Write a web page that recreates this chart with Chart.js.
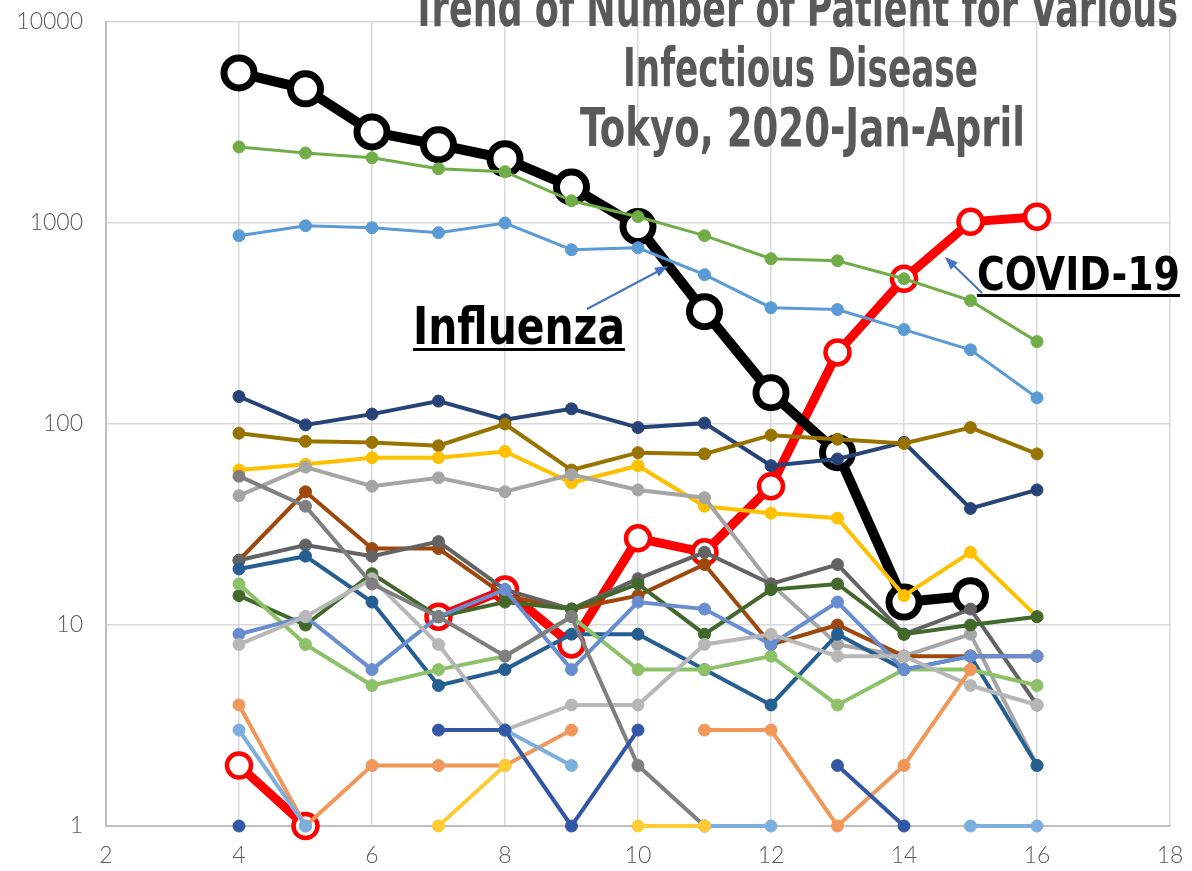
<!DOCTYPE html>
<html>
<head>
<meta charset="utf-8">
<script src="https://cdn.jsdelivr.net/npm/chart.js@4.4.1/dist/chart.umd.min.js"></script>
<style>
  body { margin: 0; background: #fff; }
  #wrap { position: relative; width: 1192px; height: 871px; overflow: hidden; }
  .lbl { position: absolute; white-space: nowrap; line-height: 1; transform-origin: 0 0;
         font-family: 'Liberation Sans Narrow', 'DejaVu Sans Condensed', 'Noto Sans', sans-serif; font-weight: bold; }
  .title { color: #595959; font-size: 54px; }
  .note { color: #000; }
  .uline { position: absolute; height: 3px; background: #000; }
</style>
</head>
<body>
<div id="wrap">
  <canvas id="chart" width="1192" height="871"></canvas>
  <div class="lbl title" data-x="412" data-w="766" data-base="26">Trend of Number of Patient for Various</div>
  <div class="lbl title" data-x="623" data-w="355" data-base="86">Infectious Disease</div>
  <div class="lbl title" data-x="580" data-w="445" data-base="146">Tokyo, 2020-Jan-April</div>
  <div class="lbl note" style="font-size:52px" data-x="413" data-w="212" data-base="344">Influenza</div>
  <div class="uline" style="left:413px;top:348px;width:212px"></div>
  <div class="lbl note" style="font-size:47px" data-x="977" data-w="203" data-base="290">COVID-19</div>
  <div class="uline" style="left:977px;top:294px;width:203px"></div>
</div>
<script>
// week numbers on the x axis
const weeks = [4, 5, 6, 7, 8, 9, 10, 11, 12, 13, 14, 15, 16];
const xTicks = [2, 4, 6, 8, 10, 12, 14, 16, 18];
const yTicks = [1, 10, 100, 1000, 10000];

// patients per week
const influenza = [5580, 4650, 2840, 2450, 2090, 1510, 960, 362, 143, 72, 13, 14, null];
const covid19   = [2, 1, null, 11, 15, 8, 27, 23, 49, 227, 528, 1014, 1075];

const greenSeries      = [2390, 2230, 2110, 1860, 1800, 1290, 1075, 865, 664, 649, 528, 411, 257];
const blueSeries       = [865, 969, 947, 895, 1000, 736, 753, 553, 379, 371, 295, 234, 135];
const navySeries       = [137, 99, 112, 130, 105, 119, 96, 101, 62, 67, 81, 38, 47];
const darkGoldSeries   = [90, 82, 81, 78, 100, 59, 72, 71, 88, 84, 80, 96, 71];
const goldSeries       = [59, 63, 68, 68, 73, 51, 62, 39, 36, 34, 14, 23, 11];
const graySeries       = [44, 61, 49, 54, 46, 56, 47, 43, 16, 8, 7, 9, 2];
const brownSeries      = [21, 46, 24, 24, 14, 12, 14, 20, 8, 10, 7, 7, 7];
const darkGraySeries   = [21, 25, 22, 26, 15, 12, 17, 23, 16, 20, 9, 12, 4];
const steelSeries      = [19, 22, 13, 5, 6, 9, 9, 6, 4, 9, 6, 7, 2];
const darkGreenSeries  = [14, 10, 18, 11, 13, 12, 16, 9, 15, 16, 9, 10, 11];
const lightGreenSeries = [16, 8, 5, 6, 7, 11, 6, 6, 7, 4, 6, 6, 5];
const periwinkleSeries = [9, 11, 6, 11, 15, 6, 13, 12, 8, 13, 6, 7, 7];
const lightGraySeries  = [8, 11, 17, 8, 3, 4, 4, 8, 9, 7, 7, 5, 4];
const midGraySeries    = [55, 39, 16, 11, 7, 11, 2, 1, null, null, null, null, null];
const orangeSeries     = [4, 1, 2, 2, 2, 3, null, 3, 3, 1, 2, 6, null];
const skyBlueSeries    = [3, 1, null, null, 3, 2, null, 1, 1, null, null, 1, 1];
const lightGoldSeries  = [null, null, null, 1, 2, null, 1, 1, null, null, null, null, null];
const royalSeries      = [1, null, null, 3, 3, 1, 3, null, null, 2, 1, null, null];

function pts(vals) {
  return weeks.map((w, i) => ({ x: w, y: vals[i] }));
}

function series(vals, color, width) {
  return {
    data: pts(vals),
    borderColor: color,
    backgroundColor: color,
    pointBackgroundColor: color,
    pointBorderColor: color,
    borderWidth: width || 4,
    pointRadius: 6,
    pointBorderWidth: 1,
    tension: 0,
    clip: false,
    order: 1
  };
}

const datasets = [
  series(royalSeries, '#3257A4'),
  series(lightGoldSeries, '#FFCD33'),
  series(skyBlueSeries, '#7CAFDD'),
  series(orangeSeries, '#F1975A'),
  series(midGraySeries, '#7F7F7F'),
  series(lightGraySeries, '#B7B7B7'),
  series(periwinkleSeries, '#698ED0'),
  series(lightGreenSeries, '#8CC168'),
  series(darkGreenSeries, '#43682B'),
  series(steelSeries, '#255E91'),
  series(darkGraySeries, '#636363'),
  series(brownSeries, '#9E480E'),
  series(graySeries, '#A5A5A5'),
  series(goldSeries, '#FFC000'),
  series(darkGoldSeries, '#997300'),
  series(navySeries, '#264478'),
  series(blueSeries, '#5B9BD5', 3),
  series(greenSeries, '#70AD47', 3),
  {
    label: 'Influenza',
    data: pts(influenza),
    borderColor: '#000',
    borderWidth: 10,
    pointRadius: 15,
    pointBorderWidth: 7,
    pointBorderColor: '#000',
    pointBackgroundColor: '#fff',
    tension: 0,
    clip: false,
    order: 2
  },
  {
    label: 'COVID-19',
    data: pts(covid19),
    borderColor: '#FF0000',
    borderWidth: 9,
    pointRadius: 12,
    pointBorderWidth: 4.5,
    pointBorderColor: '#FF0000',
    pointBackgroundColor: '#fff',
    tension: 0,
    clip: false,
    order: 3
  }
];

// blue callout arrows
const arrows = {
  id: 'arrows',
  afterDraw(chart) {
    const ctx = chart.ctx;
    const draw = (x1, y1, x2, y2) => {
      const a = Math.atan2(y2 - y1, x2 - x1);
      ctx.save();
      ctx.strokeStyle = '#4472C4';
      ctx.fillStyle = '#4472C4';
      ctx.lineWidth = 2;
      ctx.beginPath();
      ctx.moveTo(x1, y1);
      ctx.lineTo(x2 - 8 * Math.cos(a), y2 - 8 * Math.sin(a));
      ctx.stroke();
      ctx.beginPath();
      ctx.moveTo(x2, y2);
      ctx.lineTo(x2 - 13 * Math.cos(a) + 5 * Math.sin(a), y2 - 13 * Math.sin(a) - 5 * Math.cos(a));
      ctx.lineTo(x2 - 13 * Math.cos(a) - 5 * Math.sin(a), y2 - 13 * Math.sin(a) + 5 * Math.cos(a));
      ctx.closePath();
      ctx.fill();
      ctx.restore();
    };
    draw(587, 309, 668, 266);
    draw(982, 293, 945, 257);
  }
};

new Chart(document.getElementById('chart'), {
  type: 'line',
  data: { datasets },
  plugins: [arrows],
  options: {
    responsive: false,
    animation: false,
    devicePixelRatio: 1,
    layout: { padding: { top: 21, right: 20, left: 0, bottom: 0 } },
    plugins: { legend: { display: false }, tooltip: { enabled: false }, title: { display: false } },
    scales: {
      x: {
        type: 'linear',
        min: 2,
        max: 18,
        afterBuildTicks: s => { s.ticks = xTicks.map(v => ({ value: v })); },
        afterFit: s => { s.height = 45; s.paddingLeft = 0; s.paddingRight = 0; },
        grid: { color: '#d9d9d9', lineWidth: 1.5, drawTicks: false },
        border: { color: '#bfbfbf', width: 2 },
        ticks: { color: '#595959', padding: 16, font: { family: 'Lato, "Noto Sans", sans-serif', size: 23, weight: 300 } }
      },
      y: {
        type: 'logarithmic',
        min: 1,
        max: 10000,
        afterBuildTicks: s => { s.ticks = yTicks.map(v => ({ value: v })); },
        afterFit: s => { s.width = 106; s.paddingTop = 0; s.paddingBottom = 0; },
        grid: { color: '#d9d9d9', lineWidth: 1.5, drawTicks: false },
        border: { color: '#bfbfbf', width: 2 },
        ticks: {
          color: '#595959',
          padding: 23,
          callback: v => String(v),
          font: { family: 'Lato, "Noto Sans", sans-serif', size: 23, weight: 300 }
        }
      }
    }
  }
});

// place the text boxes by their baseline and stretch them to the measured widths
document.querySelectorAll('.lbl').forEach(el => {
  const mark = document.createElement('span');
  mark.style.cssText = 'display:inline-block;width:0;height:0;vertical-align:baseline';
  el.appendChild(mark);
  el.style.left = el.dataset.x + 'px';
  el.style.top = '0px';
  const base = mark.offsetTop;
  el.style.top = (parseFloat(el.dataset.base) - base) + 'px';
  const w = el.getBoundingClientRect().width;
  el.style.transform = 'scaleX(' + (parseFloat(el.dataset.w) / w) + ')';
});
</script>
</body>
</html>
